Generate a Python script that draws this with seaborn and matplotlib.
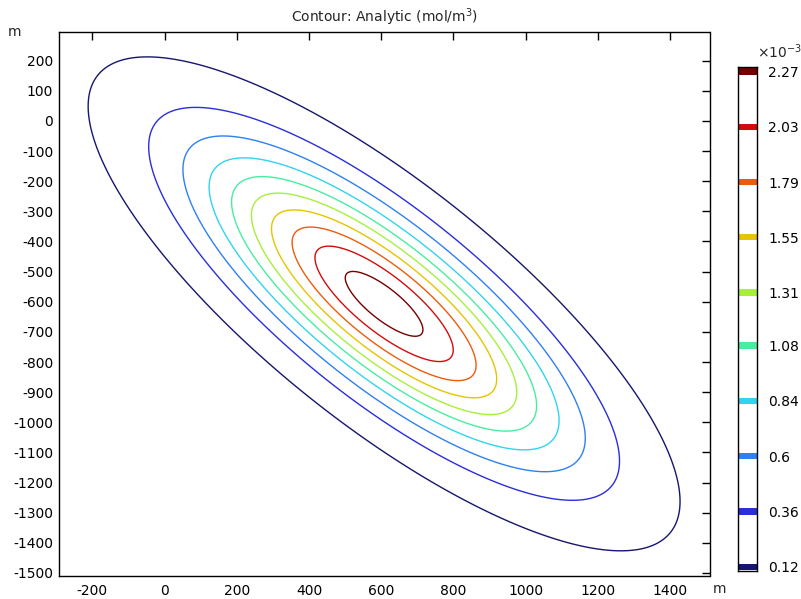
import numpy as np
import matplotlib
matplotlib.use("Agg")
import matplotlib.pyplot as plt
import seaborn as sns

# ---- data ----
levels = [0.12e-3, 0.36e-3, 0.60e-3, 0.84e-3, 1.08e-3, 1.31e-3, 1.55e-3, 1.79e-3, 2.03e-3, 2.27e-3]
level_labels = ["0.12", "0.36", "0.6", "0.84", "1.08", "1.31", "1.55", "1.79", "2.03", "2.27"]
level_colors = ["#16166e", "#2a2edc", "#2f80f2", "#30d4f0", "#48eea0",
                "#a6f03c", "#e6c400", "#ec5c0c", "#d20c0c", "#740000"]
x_ticks = [-200, 0, 200, 400, 600, 800, 1000, 1200, 1400]
y_ticks = [200, 100, 0, -100, -200, -300, -400, -500, -600, -700, -800, -900,
           -1000, -1100, -1200, -1300, -1400, -1500]
# analytic plume parameters (Gaussian puff)
peak = 2.39e-3
center_x, center_y = 608.0, -607.0
sigma_x, sigma_y = 335.0, 335.0
rho = -0.80

sns.set_theme(style="white")
plt.rcParams['font.family'] = ['DejaVu Sans']
plt.rcParams['axes.unicode_minus'] = False

fig = plt.figure(figsize=(8.01, 5.99), dpi=100)
ax = fig.add_axes([58.7/801, 1-576/599, (709.5-58.7)/801, (576-32)/599])

xg = np.linspace(-293, 1509, 700)
yg = np.linspace(-1510, 295, 700)
X, Y = np.meshgrid(xg, yg)
dx = (X - center_x) / sigma_x
dy = (Y - center_y) / sigma_y
Z = peak * np.exp(-0.5 * (dx**2 - 2*rho*dx*dy + dy**2) / (1 - rho**2))
ax.contour(X, Y, Z, levels=levels, colors=level_colors, linewidths=1.0)

ax.set_xlim(-293, 1509)
ax.set_ylim(-1510, 295)
ax.set_xticks(x_ticks)
ax.set_yticks(y_ticks)
ax.tick_params(direction='in', length=6, width=1, top=True, right=True,
               labelsize=10, colors='black')
ax.tick_params(axis='x', pad=6)
ax.tick_params(axis='y', pad=4)
for s in ax.spines.values():
    s.set_color('black')
    s.set_linewidth(1)
ax.set_facecolor('white')
ax.set_title("Contour: Analytic (mol/m$^3$)", fontsize=10, pad=7)
fig.text(8/801, 1-36/599, "m", fontsize=10, va='baseline', ha='left')
fig.text(713/801, 1-593/599, "m", fontsize=10, va='baseline', ha='left')

# ---- legend-like colorbar ----
cax = fig.add_axes([737.5/801, 1-571/599, (757-737.5)/801, (571-67.3)/599])
cax.set_ylim(0.1013e-3, 2.288e-3)
cax.set_xlim(0, 1)
half = 0.0135e-3
for lv, col in zip(levels, level_colors):
    cax.axhspan(lv - half, lv + half, color=col, lw=0)
cax.set_xticks([])
cax.set_yticks(levels)
cax.set_yticklabels(level_labels)
cax.yaxis.tick_right()
cax.tick_params(axis='y', direction='in', length=3, width=1, left=True, right=True,
                labelleft=False, labelright=True, labelsize=10, pad=8, colors='black')
for s in cax.spines.values():
    s.set_color('black')
    s.set_linewidth(1)
fig.text(757/801, 1-58/599, "×10$^{-3}$", fontsize=10, va='baseline', ha='left')

fig.savefig("out.png", dpi=100, facecolor='white')
